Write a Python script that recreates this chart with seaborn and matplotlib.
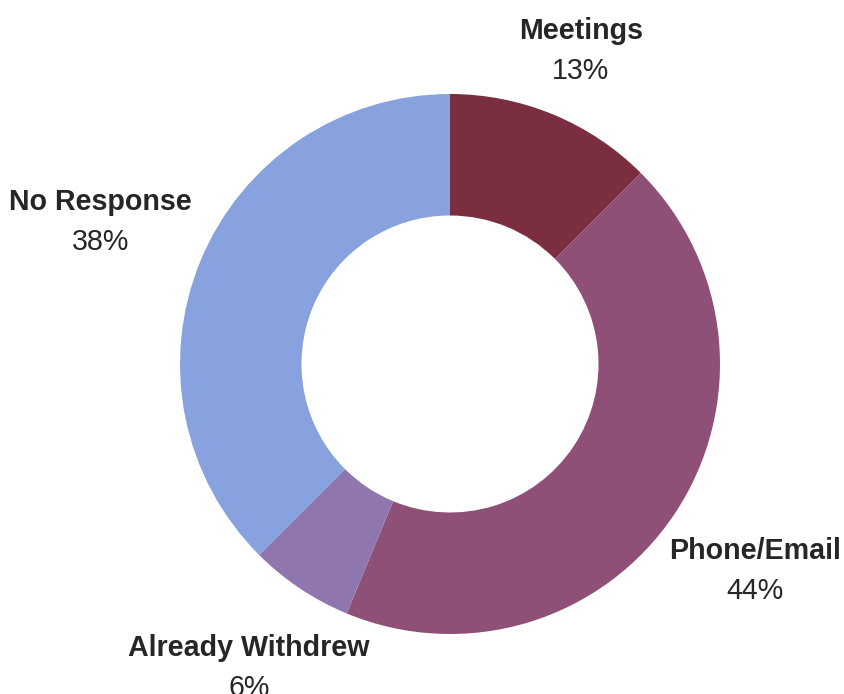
import numpy as np
import matplotlib
matplotlib.use("Agg")
import matplotlib.pyplot as plt
import seaborn as sns

# %% data
categories = ["Meetings", "Phone/Email", "Already Withdrew", "No Response"]
shares = [12.5, 43.75, 6.25, 37.5]
pct_labels = ["13%", "44%", "6%", "38%"]
colors = ["#7a2e40", "#8e5077", "#8f76ae", "#87a2de"]

# label distance from centre (in outer radii), per slice
label_radius = [1.267, 1.36, 1.34, 1.40]

# %% style
sns.set_theme(style="white")
plt.rcParams["font.family"] = ["Liberation Sans", "DejaVu Sans"]

fig = plt.figure(figsize=(8.44, 6.94), dpi=100)
ax = fig.add_axes([0, 0, 1, 1])

wedges, _ = ax.pie(shares, colors=colors, startangle=90, counterclock=False,
                   radius=1.0, wedgeprops=dict(width=0.45, linewidth=0))

# %% labels at wedge mid-angle (text baseline nudged a few px down)
for w, name, pct, r in zip(wedges, categories, pct_labels, label_radius):
    mid = np.deg2rad((w.theta1 + w.theta2) / 2)
    x, y = r * np.cos(mid), r * np.sin(mid) - 0.011
    ax.text(x, y + 0.074, name, ha="center", va="center", fontsize=20.6,
            fontweight="bold", color="#262626")
    ax.text(x, y - 0.074, pct, ha="center", va="center", fontsize=20.6,
            color="#262626")

# 1 unit = 270 px, centre at (450, 364) from top-left
ax.set_xlim(-450 / 270, 394 / 270)
ax.set_ylim(-330 / 270, 364 / 270)
ax.set_aspect("auto")
ax.axis("off")

fig.savefig("out.png", dpi=100, facecolor="white")
